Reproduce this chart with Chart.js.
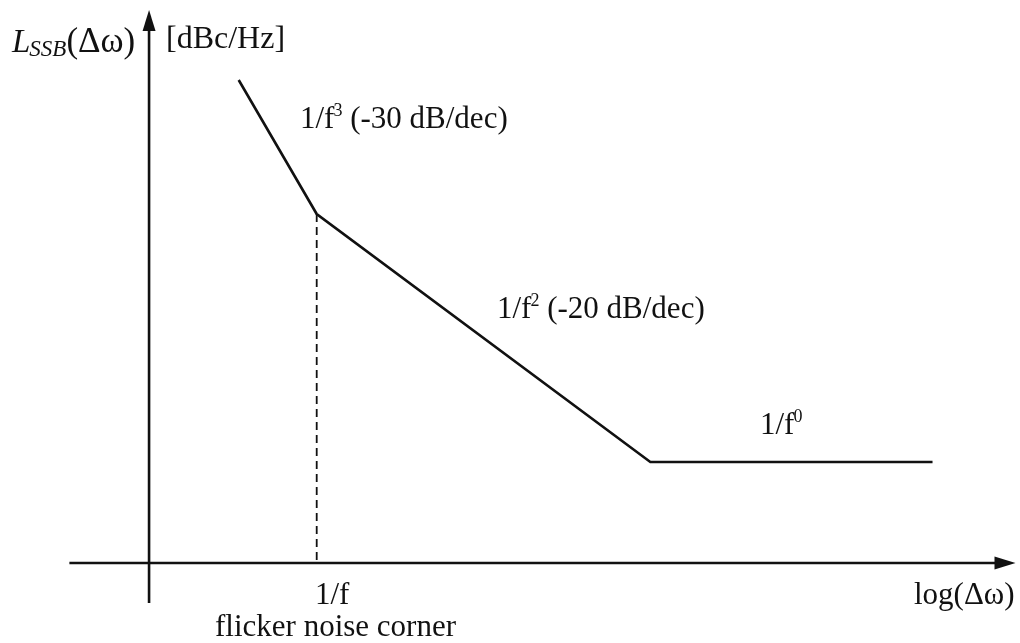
<!DOCTYPE html>
<html>
<head>
<meta charset="utf-8">
<script src="https://cdn.jsdelivr.net/npm/chart.js@4.4.1/dist/chart.umd.min.js"></script>
<style>
  html, body { margin: 0; padding: 0; background: #fff; }
  #wrap { width: 1020px; height: 643px; position: relative; }
</style>
</head>
<body>
<div id="wrap"><canvas id="c" width="1020" height="643"></canvas></div>
<script>
// Phase-noise asymptotes: offset frequency in decades (log scale), level in relative units
const offsetDecades = [0.54, 1.01, 3.02, 4.72];
const noiseLevel    = [48.3, 34.9, 10.1, 10.1];

// Flicker-noise corner marker
const cornerDecade = 1.01;
const cornerLevel  = 34.9;

// Axis extents
const xAxisRange = [-0.48, 5.22];
const yAxisRange = [-4.0, 55.3];

const FONT = '"Liberation Serif", "Times New Roman", serif';
const INK = '#111';

// Draw a run of text pieces (for sub/superscripts) starting at x, baseline y
function drawRuns(ctx, x, y, runs) {
  let cx = x;
  for (const r of runs) {
    ctx.font = (r.italic ? 'italic ' : '') + r.size + 'px ' + FONT;
    const px = cx + (r.dx || 0), py = y + (r.dy || 0);
    ctx.fillText(r.t, px, py);
    cx += ctx.measureText(r.t).width + (r.dx || 0);
  }
}

const axesAndLabels = {
  id: 'axesAndLabels',
  beforeDatasetsDraw(chart) {
    const { ctx, scales: { x, y } } = chart;
    const x0 = x.getPixelForValue(0);
    const y0 = y.getPixelForValue(0);
    const xl = x.getPixelForValue(xAxisRange[0]);
    const xr = x.getPixelForValue(xAxisRange[1]);
    const yb = y.getPixelForValue(yAxisRange[0]);
    const yt = y.getPixelForValue(yAxisRange[1]);
    ctx.save();
    ctx.strokeStyle = INK;
    ctx.fillStyle = INK;
    ctx.lineWidth = 2.6;
    // horizontal axis
    ctx.beginPath();
    ctx.moveTo(xl, y0);
    ctx.lineTo(xr - 12, y0);
    ctx.stroke();
    ctx.beginPath();
    ctx.moveTo(xr, y0);
    ctx.lineTo(xr - 21, y0 - 6.5);
    ctx.lineTo(xr - 21, y0 + 6.5);
    ctx.closePath();
    ctx.fill();
    // vertical axis
    ctx.beginPath();
    ctx.moveTo(x0, yb);
    ctx.lineTo(x0, yt + 12);
    ctx.stroke();
    ctx.beginPath();
    ctx.moveTo(x0, yt);
    ctx.lineTo(x0 - 6.5, yt + 21);
    ctx.lineTo(x0 + 6.5, yt + 21);
    ctx.closePath();
    ctx.fill();
    ctx.restore();
  },
  afterDraw(chart) {
    const { ctx } = chart;
    ctx.save();
    ctx.fillStyle = INK;
    ctx.textBaseline = 'alphabetic';
    ctx.textAlign = 'left';
    drawRuns(ctx, 12, 52, [
      { t: 'L', size: 33, italic: true },
      { t: 'SSB', size: 23, italic: true, dy: 4, dx: -1 },
      { t: '(Δω)', size: 35 }
    ]);
    drawRuns(ctx, 166, 48, [{ t: '[dBc/Hz]', size: 32 }]);
    drawRuns(ctx, 300, 128, [
      { t: '1/f', size: 31 },
      { t: '3', size: 18, dy: -12, dx: -1 },
      { t: ' (-30 dB/dec)', size: 31 }
    ]);
    drawRuns(ctx, 497, 318, [
      { t: '1/f', size: 31 },
      { t: '2', size: 18, dy: -12, dx: -1 },
      { t: ' (-20 dB/dec)', size: 31 }
    ]);
    drawRuns(ctx, 760, 434, [
      { t: '1/f', size: 31 },
      { t: '0', size: 18, dy: -12, dx: -1 }
    ]);
    drawRuns(ctx, 315, 604, [{ t: '1/f', size: 31 }]);
    drawRuns(ctx, 215, 636, [{ t: 'flicker noise corner', size: 31 }]);
    drawRuns(ctx, 914, 604, [{ t: 'log(Δω)', size: 31 }]);
    ctx.restore();
  }
};

const curve = offsetDecades.map((v, i) => ({ x: v, y: noiseLevel[i] }));
const corner = [{ x: cornerDecade, y: cornerLevel }, { x: cornerDecade, y: 0 }];

function build() {
  new Chart(document.getElementById('c'), {
    type: 'line',
    data: {
      datasets: [
        {
          data: curve,
          borderColor: INK,
          borderWidth: 2.6,
          pointRadius: 0,
          tension: 0,
          fill: false
        },
        {
          data: corner,
          borderColor: INK,
          borderWidth: 1.8,
          borderDash: [8, 5],
          pointRadius: 0,
          tension: 0,
          fill: false
        }
      ]
    },
    options: {
      responsive: false,
      animation: false,
      events: [],
      layout: { padding: 0 },
      plugins: { legend: { display: false }, tooltip: { enabled: false }, title: { display: false } },
      scales: {
        x: { type: 'linear', display: false, min: -0.898, max: 5.247 },
        y: { type: 'linear', display: false, min: -8.0, max: 56.3 }
      }
    },
    plugins: [axesAndLabels]
  });
}

// make sure the serif faces are ready before painting text
Promise.all([
  document.fonts.load('31px "Liberation Serif"'),
  document.fonts.load('italic 31px "Liberation Serif"')
]).then(build, build);
</script>
</body>
</html>
